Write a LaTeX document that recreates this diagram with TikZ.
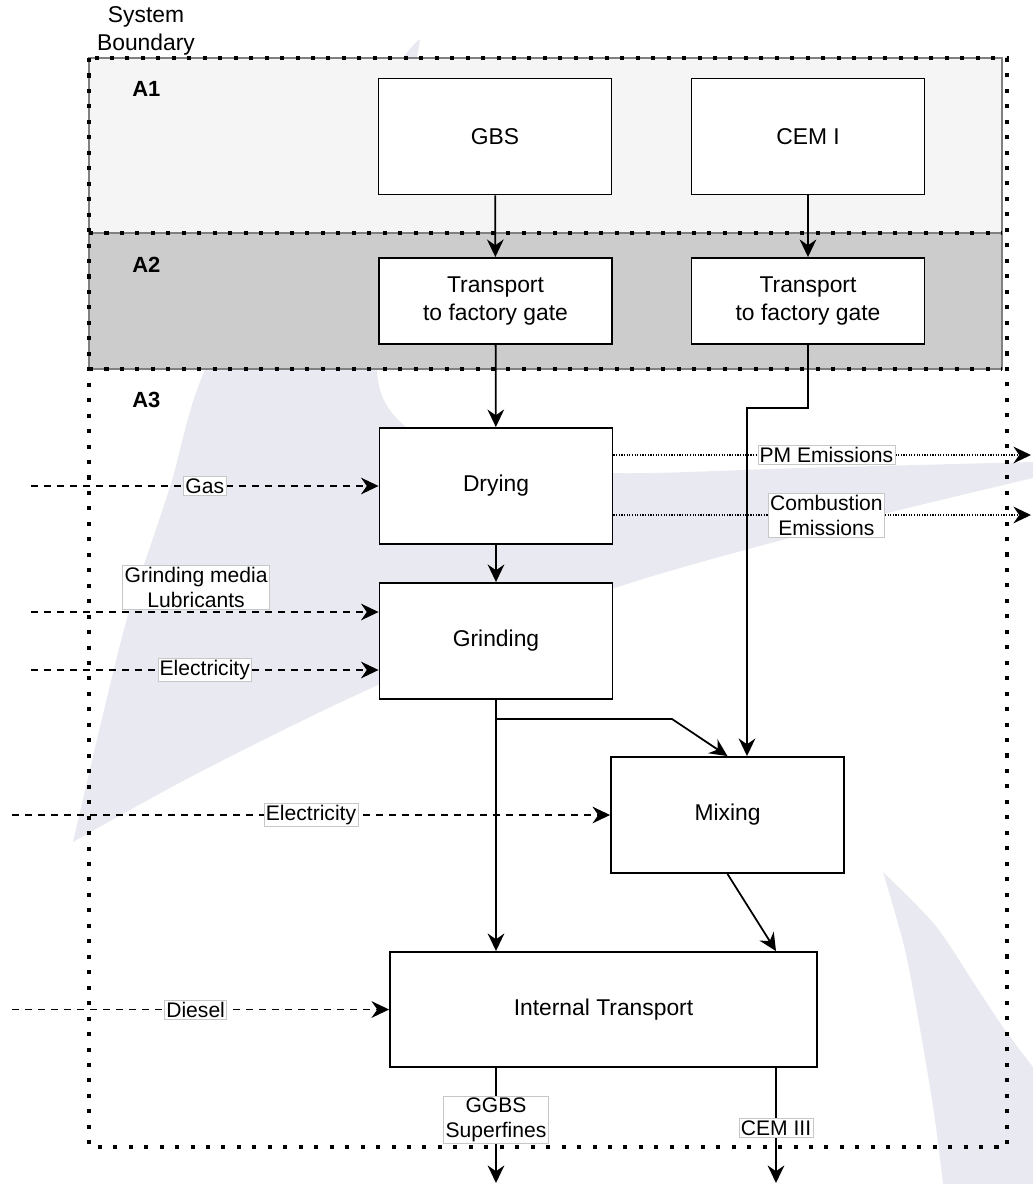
\documentclass[tikz,border=0pt]{standalone}
\usepackage{fontspec}
\setmainfont{Liberation Sans}
\usetikzlibrary{arrows.meta}

\definecolor{wmark}{RGB}{233,233,241}
\definecolor{aonefill}{RGB}{245,245,245}
\definecolor{atwofill}{RGB}{204,204,204}
\definecolor{zoneline}{RGB}{128,128,128}

\begin{document}
\begin{tikzpicture}[x=0.02cm, y=-0.02cm, >={Stealth[length=10pt,width=9.5pt,inset=3.3pt]}]
	\tikzstyle{block}=[rectangle, draw=black, line width=1.1pt, solid, fill=white, minimum width=4.66cm, minimum height=2.32cm, align=center, font=\fontsize{13}{15.5}\selectfont]
	\tikzstyle{lbl}=[rectangle, fill=white, draw=black!22, solid, line width=0.4pt, inner sep=1pt, align=center, font=\fontsize{12}{14.2}\selectfont]
	\tikzstyle{zonelbl}=[anchor=west, inner sep=0pt, font=\fontsize{12.5}{15}\selectfont\bfseries]
	\tikzstyle{zone}=[draw=zoneline, line width=0.6pt]
	\tikzstyle{bound}=[line width=2.3pt, dash pattern=on 2.3pt off 6.5pt]
	\tikzstyle{conn}=[line width=1pt]
	\tikzstyle{inflow}=[line width=0.85pt, dash pattern=on 3.8pt off 3.6pt]
	\tikzstyle{outflow}=[line width=0.9pt, dash pattern=on 0.7pt off 0.8pt]

	\useasboundingbox (0,0) rectangle (1033,1184);

	% watermark in the background
	\fill[wmark] plot[smooth] coordinates {(420,40) (403,58) (300,200) (205,370) (170,487) (130,608) (104,710) (73,842)}
		-- plot[smooth] coordinates {(73,842) (200,772) (378,685) (600,593) (820,530) (1033,478)}
		-- (1033,462)
		-- plot[smooth] coordinates {(1033,462) (800,468) (611,473) (480,458) (410,430) (378,380) (385,250) (420,40)}
		-- cycle;
	\fill[wmark] plot[smooth] coordinates {(883,872) (905,950) (922,1040) (935,1120) (943,1184)}
		-- (1033,1184) -- (1033,1067)
		-- plot[smooth] coordinates {(1033,1067) (1005,1030) (975,985) (935,925) (883,872)}
		-- cycle;

	% stages
	\draw[zone, fill=aonefill] (89,58) rectangle (1002,233);
	\draw[zone, fill=atwofill] (89,233) rectangle (1002,369);
	\draw[bound] (89,233) -- (1002,233) (89,369) -- (1002,369);
	\draw[bound] (89,58) rectangle (1007,1147);

	\node[align=center, font=\fontsize{13}{15.5}\selectfont] (sysbound) at (146,31) {System\\Boundary};
	\node[zonelbl] (aone) at (132,89) {A1};
	\node[zonelbl] (atwo) at (132,265) {A2};
	\node[zonelbl] (athree) at (132,400) {A3};

	\node[block] (gbs) at (495,136.5) {GBS};
	\node[block] (cem) at (808,136.5) {CEM I};
	\node[block, minimum height=1.72cm] (transgbs) at (495.5,301) {Transport\\to factory gate};
	\node[block, minimum height=1.72cm] (transcem) at (808,301) {Transport\\to factory gate};
	\node[block] (drying) at (496,486) {Drying};
	\node[block] (grinding) at (496,641) {Grinding};
	\node[block] (mixing) at (727.5,815) {Mixing};
	\node[block, minimum width=8.54cm, minimum height=2.3cm] (intern) at (603.5,1009.5) {Internal Transport};

	\coordinate (bend) at (747,408);
	\coordinate (split) at (672,719);
	\coordinate (ggbsout) at (496,1183);
	\coordinate (cemout) at (776,1183);

	\path[->, conn]
		(gbs) edge (transgbs)
		(cem) edge (transcem)
		(transgbs) edge (drying)
		(drying) edge (grinding)
		(grinding.south) edge (grinding.south |- intern.north)
		(mixing.south) edge (cemout |- intern.north)
		(ggbsout |- intern.south) edge node[lbl, pos=0.45] {GGBS\\Superfines} (ggbsout)
		(cemout |- intern.south) edge node[lbl, pos=0.52] {CEM III} (cemout);
	\draw[->, conn] (transcem.south) |- (bend) -- (bend |- mixing.north);
	\draw[->, conn] (grinding.south) |- (split) -- (mixing.north);

	% inputs
	\coordinate (gasin) at (31,486);
	\coordinate (mediain) at (31,612);
	\coordinate (elecin) at (31,670);
	\coordinate (elecmixin) at (12,815);
	\coordinate (dieselin) at (12,1009.5);
	\draw[->, inflow] (gasin) -- node[lbl] {Gas} (drying.west);
	\draw[->, inflow] (mediain) -- node[lbl, anchor=south, pos=0.475, yshift=1.5pt] {Grinding media\\Lubricants} (mediain -| grinding.west);
	\draw[->, inflow] (elecin) -- node[lbl] {Electricity} (elecin -| grinding.west);
	\draw[->, inflow] (elecmixin) -- node[lbl] {Electricity} (mixing.west);
	\draw[->, inflow] (dieselin) -- node[lbl, pos=0.487] {Diesel} (intern.west);

	% outputs
	\coordinate (pmout) at (1031,455);
	\coordinate (combout) at (1031,515);
	\draw[->, outflow] (drying.east |- pmout) -- node[lbl, pos=0.51] {PM Emissions} (pmout);
	\draw[->, outflow] (drying.east |- combout) -- node[lbl, pos=0.51] {Combustion\\Emissions} (combout);
\end{tikzpicture}
\end{document}
